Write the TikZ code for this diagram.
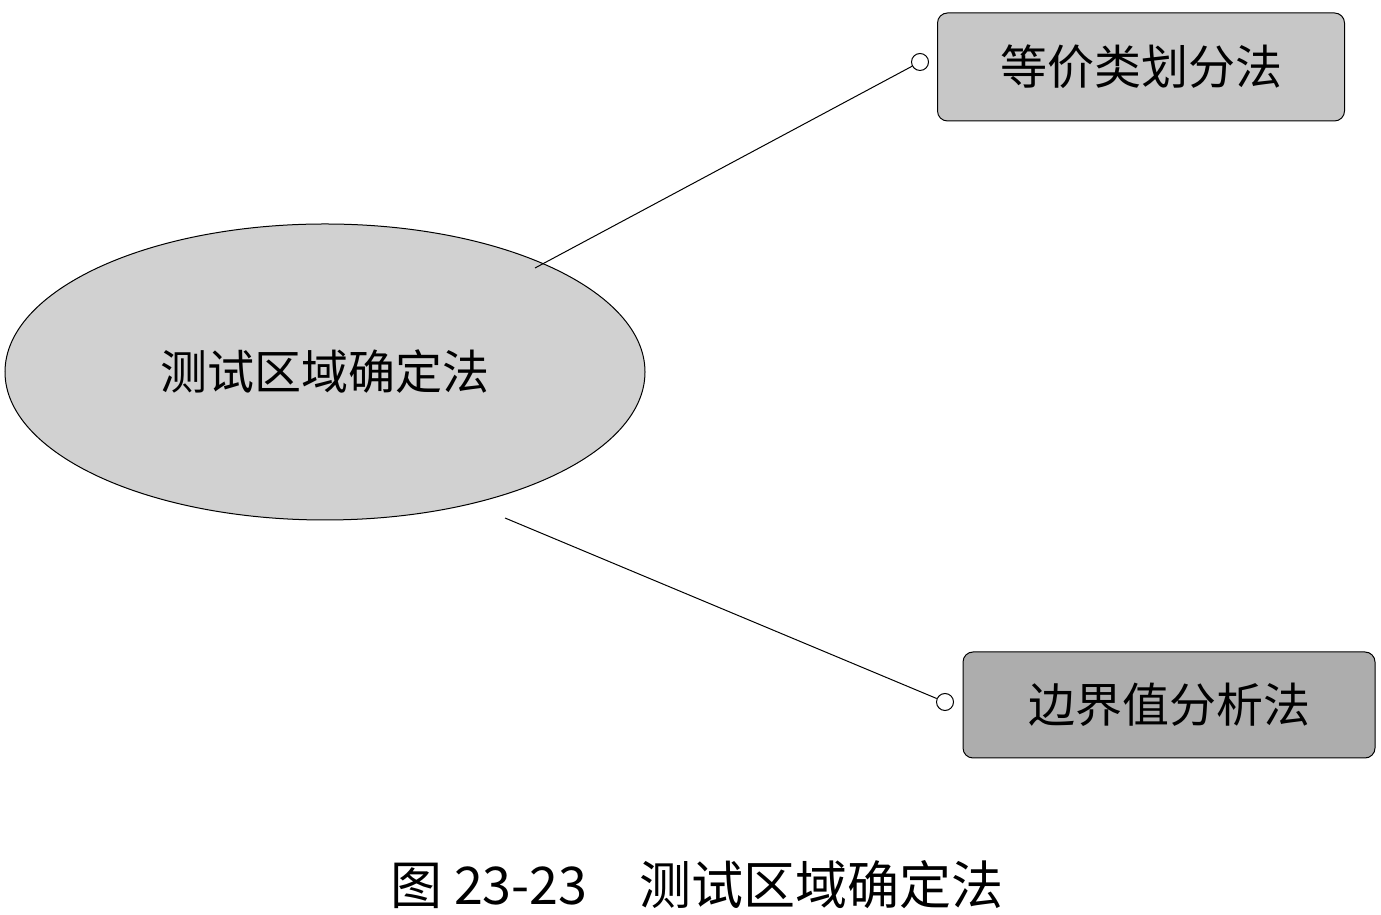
\documentclass[tikz,border=0pt]{standalone}
\usepackage{fontspec}
\newfontfamily\cjk{Noto Sans CJK SC}
\usetikzlibrary{shapes.geometric}
\begin{document}
\begin{tikzpicture}[x=1pt,y=1pt,
  lbl/.style={font=\cjk\fontsize{47}{54}\selectfont},
  boxA/.style={draw,rounded corners=10pt,line width=1pt,minimum width=407pt,minimum height=108pt,lbl},
  dot/.style={draw,fill=white,circle,inner sep=0pt,minimum size=17pt,line width=1pt}]
\useasboundingbox (0,0) rectangle (1381,915);
\node[draw,ellipse,fill=black!18,line width=1pt,minimum width=640pt,minimum height=296pt,lbl] (e) at (325,543) {测试区域确定法};
\node[boxA,fill=black!22] (b1) at (1141,848) {等价类划分法};
\node[boxA,fill=black!32,minimum width=412pt,minimum height=106pt] (b2) at (1169,210) {边界值分析法};
\node[dot] (c1) at (920,853) {};
\node[dot] (c2) at (945,213) {};
\coordinate (s1) at (535,647);
\coordinate (s2) at (505,397);
\draw[line width=1pt] (s1) -- (c1);
\draw[line width=1pt] (s2) -- (c2);
\node[font=\cjk\fontsize{52}{60}\selectfont] (cap) at (697,30) {图 23-23\quad 测试区域确定法};
\end{tikzpicture}
\end{document}
